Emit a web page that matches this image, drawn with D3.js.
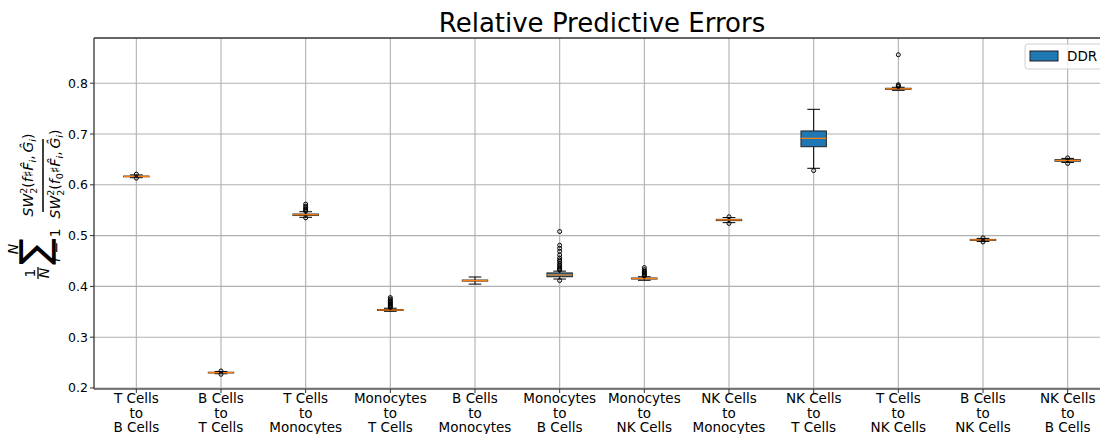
<!DOCTYPE html>
<html><head><meta charset="utf-8">
<script src="https://cdn.jsdelivr.net/npm/d3@7"></script>
<style>body{margin:0;background:#fff}svg{display:block;font-family:"DejaVu Sans",sans-serif}</style>
</head><body>
<svg id="c" width="1100" height="434"></svg>
<script>
const categories = [
  ["T Cells","to","B Cells"],["B Cells","to","T Cells"],["T Cells","to","Monocytes"],
  ["Monocytes","to","T Cells"],["B Cells","to","Monocytes"],["Monocytes","to","B Cells"],
  ["Monocytes","to","NK Cells"],["NK Cells","to","Monocytes"],["NK Cells","to","T Cells"],
  ["T Cells","to","NK Cells"],["B Cells","to","NK Cells"],["NK Cells","to","B Cells"]];
const medians   = [0.6165,0.2302,0.5410,0.3535,0.4115,0.4225,0.4155,0.5310,0.6915,0.7890,0.4915,0.6480];
const q1s       = [0.6158,0.2296,0.5395,0.3525,0.4105,0.4190,0.4145,0.5295,0.6750,0.7880,0.4905,0.6465];
const q3s       = [0.6172,0.2310,0.5425,0.3545,0.4125,0.4265,0.4165,0.5320,0.7060,0.7900,0.4925,0.6495];
const whiskLow  = [0.6140,0.2280,0.5360,0.3510,0.4045,0.4145,0.4120,0.5255,0.6325,0.7860,0.4885,0.6440];
const whiskHigh = [0.6195,0.2325,0.5470,0.3570,0.4185,0.4300,0.4190,0.5355,0.7486,0.7920,0.4945,0.6520];
const outliers  = [
  [0.6130,0.6210],[0.2270,0.2335],[0.5350,0.5480,0.5500,0.5520,0.5550,0.5580,0.5620],
  [0.3585,0.3600,0.3620,0.3640,0.3660,0.3680,0.3700,0.3720,0.3750,0.3780],[],
  [0.4115,0.4320,0.4340,0.4360,0.4390,0.4420,0.4450,0.4490,0.4520,0.4560,0.4620,0.4690,0.4750,0.4810,0.5080],
  [0.4205,0.4220,0.4240,0.4260,0.4280,0.4300,0.4330,0.4370],[0.5240,0.5370],[0.6280],
  [0.7935,0.7950,0.7970,0.8560],[0.4875,0.4955],[0.6420,0.6530]];
const yTicks = [0.2,0.3,0.4,0.5,0.6,0.7,0.8];
const seriesName = "DDR";

const svg = d3.select("#c");
const L = 94, R = 1110, T = 38, B = 389;
const x = d3.scaleLinear().domain([0.5, 12.5]).range([L, R]);
const y = d3.scaleLinear().domain([0.198, 0.889]).range([B, T]);
const boxW = x(1.3) - x(1);

// grid
const g = svg.append("g");
g.selectAll(".gx").data(categories).join("line")
  .attr("x1",(d,i)=>x(i+1)).attr("x2",(d,i)=>x(i+1)).attr("y1",T).attr("y2",B)
  .attr("stroke","#b0b0b0").attr("stroke-width",1.1);
g.selectAll(".gy").data(yTicks).join("line")
  .attr("x1",L).attr("x2",R).attr("y1",d=>y(d)).attr("y2",d=>y(d))
  .attr("stroke","#b0b0b0").attr("stroke-width",1.1);

// boxes
const bx = svg.append("g");
categories.forEach((c,i)=>{
  const cx = x(i+1);
  const gg = bx.append("g");
  gg.append("line").attr("x1",cx).attr("x2",cx).attr("y1",y(whiskLow[i])).attr("y2",y(q1s[i])).attr("stroke","#000");
  gg.append("line").attr("x1",cx).attr("x2",cx).attr("y1",y(q3s[i])).attr("y2",y(whiskHigh[i])).attr("stroke","#000");
  [whiskLow[i], whiskHigh[i]].forEach(v=>gg.append("line").attr("x1",cx-boxW/4).attr("x2",cx+boxW/4)
    .attr("y1",y(v)).attr("y2",y(v)).attr("stroke","#000"));
  gg.append("rect").attr("x",cx-boxW/2).attr("width",boxW).attr("y",y(q3s[i]))
    .attr("height",Math.max(0.01,y(q1s[i])-y(q3s[i]))).attr("fill","#1f77b4").attr("stroke","#222").attr("stroke-width",1);
  gg.append("line").attr("x1",cx-boxW/2).attr("x2",cx+boxW/2).attr("y1",y(medians[i])).attr("y2",y(medians[i]))
    .attr("stroke","#ff7f0e").attr("stroke-width",1.3);
  gg.selectAll("circle").data(outliers[i]).join("circle").attr("cx",cx).attr("cy",d=>y(d)).attr("r",2)
    .attr("fill","none").attr("stroke","#000").attr("stroke-width",1);
});

// spines
svg.append("line").attr("x1",L).attr("x2",L).attr("y1",T).attr("y2",B).attr("stroke","#333").attr("stroke-width",1.3);
svg.append("line").attr("x1",L).attr("x2",R).attr("y1",T).attr("y2",T).attr("stroke","#333").attr("stroke-width",1.3);
svg.append("line").attr("x1",L).attr("x2",R).attr("y1",B).attr("y2",B).attr("stroke","#555").attr("stroke-width",1.3);

// y ticks
const yt = svg.append("g");
yTicks.forEach(v=>{
  yt.append("line").attr("x1",L-4).attr("x2",L).attr("y1",y(v)).attr("y2",y(v)).attr("stroke","#333");
  yt.append("text").attr("x",L-6).attr("y",y(v)+4.5).attr("text-anchor","end").attr("font-size",12.5).text(d3.format(".1f")(v));
});
// x ticks
const xt = svg.append("g");
categories.forEach((c,i)=>{
  const cx = x(i+1);
  xt.append("line").attr("x1",cx).attr("x2",cx).attr("y1",B).attr("y2",B+4).attr("stroke","#333");
  const t = xt.append("text").attr("text-anchor","middle").attr("font-size",13.5);
  c.forEach((ln,k)=>t.append("tspan").attr("x",cx).attr("y",403+k*14.7).text(ln));
});

// title
svg.append("text").attr("x",(L+R)/2).attr("y",32).attr("text-anchor","middle").attr("font-size",26).text("Relative Predictive Errors");

// legend
const lg = svg.append("g");
lg.append("rect").attr("x",1025).attr("y",44).attr("width",90).attr("height",25).attr("rx",3)
  .attr("fill","#fff").attr("fill-opacity",0.8).attr("stroke","#d0d0d0");
lg.append("rect").attr("x",1030).attr("y",51).attr("width",28).attr("height",10).attr("fill","#1f77b4").attr("stroke","#222");
lg.append("text").attr("x",1067).attr("y",61).attr("font-size",13.5).text(seriesName);

// y label (rotated math): u = 279 - screenY, v = screenX - 43
const yl = svg.append("g").attr("transform","translate(43,279) rotate(-90)");
yl.append("text").attr("x",6).attr("y",-8).attr("text-anchor","middle").attr("font-size",14).text("1");
yl.append("line").attr("x1",0).attr("x2",12).attr("y1",-5).attr("y2",-5).attr("stroke","#000").attr("stroke-width",1.3);
yl.append("text").attr("x",6).attr("y",6).attr("text-anchor","middle").attr("font-size",14).attr("font-style","italic").text("N");
yl.append("text").attr("x",14).attr("y",5).attr("font-size",40).text("∑");
yl.append("text").attr("x",30).attr("y",-25).attr("text-anchor","middle").attr("font-size",14).attr("font-style","italic").text("N");
const il = yl.append("text").attr("x",34).attr("y",17).attr("text-anchor","middle").attr("font-size",14);
il.append("tspan").attr("font-style","italic").text("i");
il.append("tspan").text(" = 1");
function sw(el, sub0){
  el.append("tspan").attr("font-style","italic").text("SW");
  el.append("tspan").attr("font-size",9.5).attr("dy",-6).text("2");
  el.append("tspan").attr("font-size",9.5).attr("dx",-6).attr("dy",10).text("2");
  el.append("tspan").attr("dy",-4).text("(");
  el.append("tspan").attr("font-style","italic").text("f");
  if(sub0){ el.append("tspan").attr("font-size",9.5).attr("dy",3).text("0"); el.append("tspan").attr("dy",-3).text("♯"); }
  else el.append("tspan").text("♯");
  el.append("tspan").attr("font-style","italic").text("F\u0302");
  el.append("tspan").attr("font-size",9.5).attr("font-style","italic").attr("dy",3).text("i");
  el.append("tspan").attr("dy",-3).text(",\u2009");
  el.append("tspan").attr("font-style","italic").text("G\u0302");
  el.append("tspan").attr("font-size",9.5).attr("font-style","italic").attr("dy",3).text("i");
  el.append("tspan").attr("dy",-3).text(")");
}
sw(yl.append("text").attr("x",104).attr("y",-10).attr("text-anchor","middle").attr("font-size",14), false);
yl.append("line").attr("x1",67).attr("x2",140).attr("y1",0).attr("y2",0).attr("stroke","#000").attr("stroke-width",1.5);
sw(yl.append("text").attr("x",105).attr("y",17).attr("text-anchor","middle").attr("font-size",14), true);
</script>
</body></html>
